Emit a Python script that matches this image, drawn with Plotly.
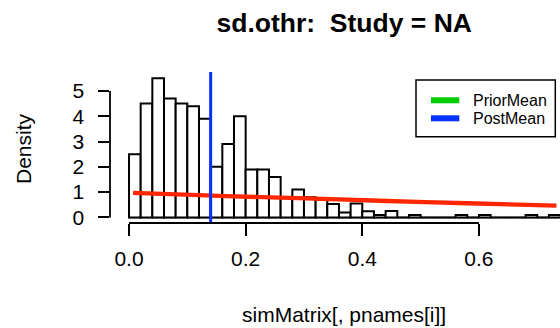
import plotly.graph_objects as go

# ---- data ----
bin_left = [0.00, 0.02, 0.04, 0.06, 0.08, 0.10, 0.12, 0.14, 0.16, 0.18,
            0.20, 0.22, 0.24, 0.26, 0.28, 0.30, 0.32, 0.34, 0.36, 0.38,
            0.40, 0.42, 0.44, 0.46, 0.48, 0.50, 0.52, 0.54, 0.56, 0.58,
            0.60, 0.62, 0.64, 0.66, 0.68, 0.70, 0.72]
bin_width = 0.02
density = [2.5, 4.5, 5.5, 4.7, 4.5, 4.4, 3.9, 2.0, 2.9, 4.0,
           1.9, 1.9, 1.6, 0.8, 1.1, 0.8, 0.7, 0.53, 0.2, 0.55,
           0.24, 0.1, 0.25, 0.0, 0.1, 0.0, 0.0, 0.0, 0.1, 0.0,
           0.1, 0.0, 0.0, 0.0, 0.1, 0.0, 0.1]

prior_x = [0.007, 0.12, 0.242, 0.276, 0.43, 0.58, 0.733]
prior_y = [0.97, 0.88, 0.79, 0.775, 0.66, 0.56, 0.47]

post_mean = 0.14

x_ticks = [0.0, 0.2, 0.4, 0.6]
x_ticklabels = ["0.0", "0.2", "0.4", "0.6"]
y_ticks = [0, 1, 2, 3, 4, 5]
y_ticklabels = ["0", "1", "2", "3", "4", "5"]

legend_labels = ["PriorMean", "PostMean"]
legend_colors = ["#00CC00", "#0433FF"]

title = "<b>sd.othr:&nbsp; Study = NA</b>"
xlab = "simMatrix[, pnames[i]]"
ylab = "Density"

FONT = "Liberation Sans, Arial, Helvetica, sans-serif"
W, H = 560, 328
ML, MR, MT, MB = 110, 0, 72, 105
PW, PH = W - ML - MR, H - MT - MB


def px_x(p):
    return (p - ML) / PW


def px_y(p):
    return (H - MB - p) / PH


centers = [b + bin_width / 2 for b in bin_left]

fig = go.Figure()
fig.add_trace(go.Bar(
    x=centers, y=density, width=bin_width,
    marker=dict(color="white", line=dict(color="black", width=2)),
    showlegend=False, hoverinfo="skip"))
fig.add_trace(go.Scatter(
    x=prior_x, y=prior_y, mode="lines",
    line=dict(color="#FF2600", width=4.3, shape="spline"),
    showlegend=False, hoverinfo="skip"))

shapes = []
# baseline of histogram (zero-height bins drawn as a line in R)
shapes.append(dict(type="line", xref="x", yref="y",
                   x0=bin_left[0], x1=bin_left[-1] + bin_width, y0=0, y1=0,
                   line=dict(color="black", width=1.5), layer="below"))
# posterior mean
shapes.append(dict(type="line", xref="x", yref="paper",
                   x0=post_mean, x1=post_mean, y0=0, y1=1,
                   line=dict(color=legend_colors[1], width=3)))
# axis lines spanning tick range (R style)
shapes.append(dict(type="line", xref="x", yref="paper",
                   x0=x_ticks[0], x1=x_ticks[-1], y0=0, y1=0,
                   line=dict(color="black", width=1.8)))
shapes.append(dict(type="line", xref="paper", yref="y",
                   x0=0, x1=0, y0=y_ticks[0], y1=y_ticks[-1],
                   line=dict(color="black", width=1.8)))
# legend box
shapes.append(dict(type="rect", xref="paper", yref="paper",
                   x0=px_x(416), x1=px_x(555.3), y0=px_y(136.7), y1=px_y(80),
                   line=dict(color="black", width=1.5), fillcolor="white"))
annotations = []
for i, (lab, col) in enumerate(zip(legend_labels, legend_colors)):
    yy = 100.3 + 18 * i
    shapes.append(dict(type="line", xref="paper", yref="paper",
                       x0=px_x(431), x1=px_x(459.3), y0=px_y(yy), y1=px_y(yy),
                       line=dict(color=col, width=6)))
    annotations.append(dict(text=lab, xref="paper", yref="paper",
                            x=px_x(471), y=px_y(yy), xanchor="left",
                            yanchor="middle", showarrow=False,
                            font=dict(family=FONT, size=16, color="black")))

annotations.append(dict(text=xlab, xref="paper", yref="paper",
                        x=px_x(344.2), y=px_y(314), xanchor="center",
                        yanchor="middle", showarrow=False,
                        font=dict(family=FONT, size=21, color="black")))
annotations.append(dict(text=ylab, xref="paper", yref="paper",
                        x=px_x(23), y=px_y(149), xanchor="center",
                        yanchor="middle", textangle=-90, showarrow=False,
                        font=dict(family=FONT, size=21, color="black")))

fig.update_layout(
    width=W, height=H,
    margin=dict(l=ML, r=MR, t=MT, b=MB, pad=0),
    paper_bgcolor="white", plot_bgcolor="white",
    title=dict(text=title, x=344.2 / W, xanchor="center", xref="container",
               y=1 - 23 / H, yanchor="middle",
               font=dict(family=FONT, size=26.5, color="black")),
    shapes=shapes, annotations=annotations,
    showlegend=False,
    xaxis=dict(range=[-0.0326, 0.739], showgrid=False, zeroline=False,
               showline=False, ticks="outside", ticklen=11.5, tickwidth=1.8,
               tickcolor="black", tickvals=x_ticks, ticktext=x_ticklabels,
               ticklabelstandoff=5,
               tickfont=dict(family=FONT, size=21, color="black")),
    yaxis=dict(range=[-0.22, 5.75], showgrid=False, zeroline=False,
               showline=False, ticks="outside", ticklen=11.5, tickwidth=1.8,
               tickcolor="black", tickvals=y_ticks, ticktext=y_ticklabels,
               ticklabelstandoff=9,
               tickfont=dict(family=FONT, size=21, color="black")),
)

fig.write_html("out.html")
